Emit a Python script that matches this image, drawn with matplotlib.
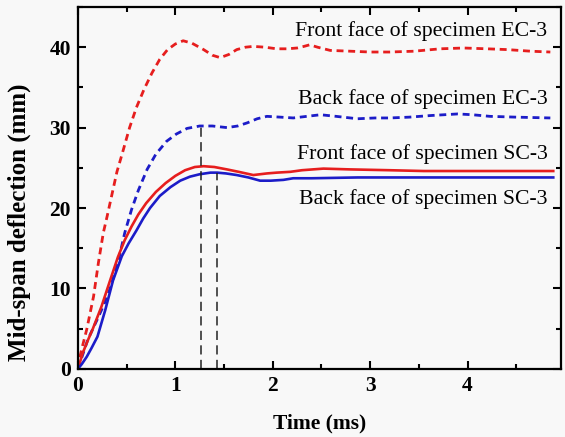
import matplotlib
matplotlib.use('Agg')
import matplotlib.pyplot as plt
from matplotlib.ticker import MultipleLocator

# Front face of specimen EC-3 (red dashed)
t_fec = [0, 0.02, 0.05, 0.09, 0.16, 0.21, 0.26, 0.30, 0.36, 0.40, 0.46, 0.53, 0.60, 0.68,
         0.76, 0.84, 0.92, 1.00, 1.08, 1.17, 1.29, 1.38, 1.46, 1.55, 1.63, 1.72, 1.80, 1.92,
         2.04, 2.15, 2.25, 2.32, 2.38, 2.46, 2.59, 2.80, 3.00, 3.20, 3.45, 3.72, 3.96, 4.20,
         4.41, 4.65, 4.85]
d_fec = [0, 1.5, 3.0, 4.9, 9.0, 13.2, 16.9, 19.0, 22.3, 24.5, 27.0, 30.0, 32.5, 34.8,
         36.8, 38.5, 39.7, 40.4, 40.8, 40.5, 39.7, 39.0, 38.7, 39.1, 39.7, 40.0, 40.1, 40.0,
         39.8, 39.8, 39.9, 40.1, 40.3, 40.0, 39.6, 39.5, 39.4, 39.4, 39.5, 39.8, 39.9, 39.8,
         39.7, 39.5, 39.4]

# Back face of specimen EC-3 (blue dashed)
t_bec = [0, 0.05, 0.10, 0.15, 0.20, 0.26, 0.33, 0.41, 0.48, 0.55, 0.62, 0.71, 0.80, 0.91,
         1.01, 1.12, 1.25, 1.38, 1.53, 1.64, 1.74, 1.84, 1.94, 2.08, 2.21, 2.35, 2.49, 2.65,
         2.87, 3.05, 3.20, 3.40, 3.62, 3.90, 4.05, 4.23, 4.50, 4.85]
d_bec = [0, 1.8, 3.6, 4.9, 6.2, 7.8, 10.0, 13.2, 16.9, 19.8, 22.2, 24.8, 26.7, 28.3,
         29.2, 29.9, 30.2, 30.2, 30.0, 30.2, 30.6, 31.1, 31.4, 31.3, 31.2, 31.4, 31.6, 31.4,
         31.1, 31.2, 31.2, 31.3, 31.5, 31.7, 31.6, 31.4, 31.3, 31.2]

# Front face of specimen SC-3 (red solid)
t_fsc = [0, 0.05, 0.10, 0.15, 0.24, 0.33, 0.41, 0.48, 0.55, 0.62, 0.70, 0.80, 0.90, 1.00,
         1.10, 1.20, 1.29, 1.40, 1.53, 1.65, 1.80, 1.94, 2.04, 2.18, 2.30, 2.52, 2.80, 3.20,
         3.55, 4.00, 4.50, 4.88]
d_fsc = [0, 2.0, 3.5, 4.9, 7.7, 11.0, 13.9, 16.0, 17.7, 19.2, 20.6, 22.0, 23.1, 24.0,
         24.7, 25.1, 25.2, 25.1, 24.8, 24.5, 24.1, 24.3, 24.4, 24.5, 24.7, 24.9, 24.8, 24.7,
         24.6, 24.6, 24.6, 24.6]

# Back face of specimen SC-3 (blue solid)
t_bsc = [0, 0.04, 0.09, 0.14, 0.20, 0.28, 0.36, 0.45, 0.52, 0.60, 0.67, 0.74, 0.84, 0.95,
         1.05, 1.15, 1.25, 1.36, 1.43, 1.52, 1.63, 1.75, 1.87, 1.98, 2.11, 2.21, 2.40, 2.87,
         3.30, 3.80, 4.30, 4.88]
d_bsc = [0, 0.6, 1.5, 2.6, 4.0, 7.3, 11.0, 14.0, 15.6, 17.2, 18.7, 20.0, 21.5, 22.6,
         23.4, 23.9, 24.2, 24.4, 24.4, 24.3, 24.1, 23.8, 23.4, 23.4, 23.5, 23.7, 23.7, 23.8,
         23.8, 23.8, 23.8, 23.8]

# vertical markers at the peaks of the back faces
peak_t = [1.26, 1.43]
peak_d = [30.2, 24.4]

labels = ['Front face of specimen EC-3', 'Back face of specimen EC-3',
          'Front face of specimen SC-3', 'Back face of specimen SC-3']
label_y = [42.0, 33.6, 26.7, 21.1]

red = '#e61e1e'
blue = '#1c1cc8'
bg = '#f8f8f8'

plt.rcParams['font.family'] = ['Liberation Serif', 'DejaVu Serif']

fig = plt.figure(figsize=(5.65, 4.37), dpi=100, facecolor=bg)
ax = fig.add_axes([0.138, 0.156, 0.855, 0.828], facecolor=bg)

ax.plot(t_fec, d_fec, color=red, lw=2.0, dashes=(2.5, 1.7))
ax.plot(t_bec, d_bec, color=blue, lw=2.0, dashes=(2.5, 1.7))
ax.plot(t_fsc, d_fsc, color=red, lw=1.9)
ax.plot(t_bsc, d_bsc, color=blue, lw=1.9)

for tp, dp in zip(peak_t, peak_d):
    ax.plot([tp, tp], [0, dp], color='#222222', lw=1.1, dashes=(6, 3.5))

for lab, ly in zip(labels, label_y):
    ax.text(4.82, ly, lab, ha='right', va='center', fontsize=15.7)

ax.set_xlim(0, 4.96)
ax.set_ylim(0, 45)
ax.xaxis.set_major_locator(MultipleLocator(1))
ax.xaxis.set_minor_locator(MultipleLocator(0.5))
ax.yaxis.set_major_locator(MultipleLocator(10))
ax.yaxis.set_minor_locator(MultipleLocator(5))
ax.tick_params(which='both', direction='in', top=True, right=True, width=1.5)
ax.tick_params(which='major', length=6, labelsize=15.5, pad=5)
ax.tick_params(which='minor', length=3.5)
for lbl in ax.get_xticklabels() + ax.get_yticklabels():
    lbl.set_fontweight('bold')
for sp in ax.spines.values():
    sp.set_linewidth(1.6)

ax.set_xlabel('Time (ms)', fontsize=15.5, fontweight='bold', labelpad=13)
ax.set_ylabel('Mid-span deflection (mm)', fontsize=18, fontweight='bold')
ax.yaxis.set_label_coords(-0.097, 0.406)

fig.savefig('out.png', dpi=100, facecolor=bg)
